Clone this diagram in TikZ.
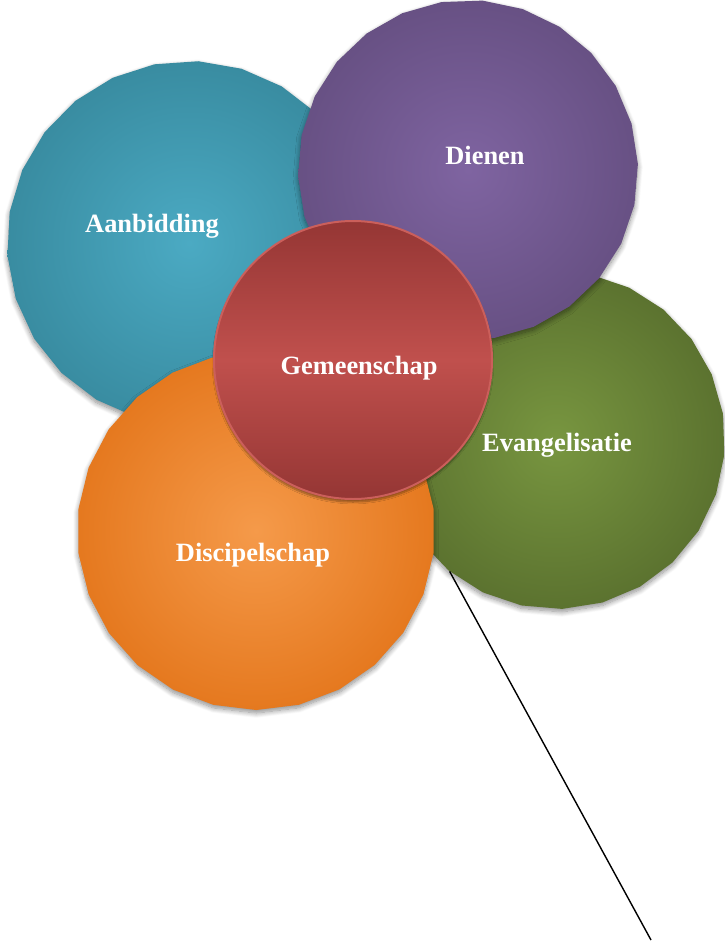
\documentclass[tikz,border=0pt]{standalone}
\usepackage{fontspec}
\setmainfont{Liberation Serif}
\usetikzlibrary{shapes.geometric,shadows.blur}

\definecolor{tealIn}{HTML}{4BAAC3}
\definecolor{tealOut}{HTML}{317F92}
\definecolor{purpleIn}{HTML}{7F64A1}
\definecolor{purpleOut}{HTML}{5D4877}
\definecolor{greenIn}{HTML}{789640}
\definecolor{greenOut}{HTML}{4F6328}
\definecolor{orangeIn}{HTML}{F59A4A}
\definecolor{orangeOut}{HTML}{DE6A0C}
\definecolor{redDark}{HTML}{953634}
\definecolor{redMid}{HTML}{C0504D}
\definecolor{redRim}{HTML}{CB5F5B}

\pgfdeclareradialshading{ballTeal}{\pgfpoint{0bp}{0bp}}{color(0bp)=(tealIn); color(36bp)=(tealOut); color(50bp)=(tealOut)}
\pgfdeclareradialshading{ballPurple}{\pgfpoint{0bp}{0bp}}{color(0bp)=(purpleIn); color(36bp)=(purpleOut); color(50bp)=(purpleOut)}
\pgfdeclareradialshading{ballGreen}{\pgfpoint{0bp}{0bp}}{color(0bp)=(greenIn); color(36bp)=(greenOut); color(50bp)=(greenOut)}
\pgfdeclareradialshading{ballOrange}{\pgfpoint{0bp}{0bp}}{color(0bp)=(orangeIn); color(36bp)=(orangeOut); color(50bp)=(orangeOut)}

\tikzset{
  bubble/.style={regular polygon, regular polygon sides=26, inner sep=0pt, shade,
    blur shadow={shadow xshift=0pt, shadow yshift=-3pt, shadow blur steps=10, shadow blur radius=5pt, shadow opacity=45}},
  caption/.style={text=white, font=\fontsize{26.4}{30}\selectfont\bfseries}
}

\begin{document}
\begin{tikzpicture}[x=1pt, y=-1pt]
  \useasboundingbox (0,0) rectangle (725,942);

  \node[bubble, shading=ballTeal, minimum size=364pt, regular polygon rotate=4] (aanbidding) at (189,243) {};
  \node[bubble, shading=ballGreen, minimum size=338pt, regular polygon rotate=9] (evangelisatie) at (556,440) {};
  \node[bubble, shading=ballPurple, minimum size=340pt, regular polygon rotate=2] (dienen) at (468,170) {};
  \node[bubble, shading=ballOrange, minimum size=358pt, regular polygon rotate=7] (discipelschap) at (256,531) {};
  \node[circle, minimum size=278pt, inner sep=0pt, top color=redDark, bottom color=redDark, middle color=redMid,
    draw=redRim, line width=2pt,
    blur shadow={shadow xshift=0pt, shadow yshift=-3pt, shadow blur steps=8, shadow opacity=40}] (gemeenschap) at (353,360) {};

  \node[caption] (aanbiddingText) at (152,226) {Aanbidding};
  \node[caption] (dienenText) at (485,155) {Dienen};
  \node[caption] (evangelisatieText) at (557,445) {Evangelisatie};
  \node[caption] (discipelschapText) at (253,555) {Discipelschap};
  \node[caption] (gemeenschapText) at (359,368) {Gemeenschap};

  \coordinate (lineEnd) at (651,940);
  \draw[line width=1.4pt] (evangelisatie.231) -- (lineEnd);
\end{tikzpicture}
\end{document}
